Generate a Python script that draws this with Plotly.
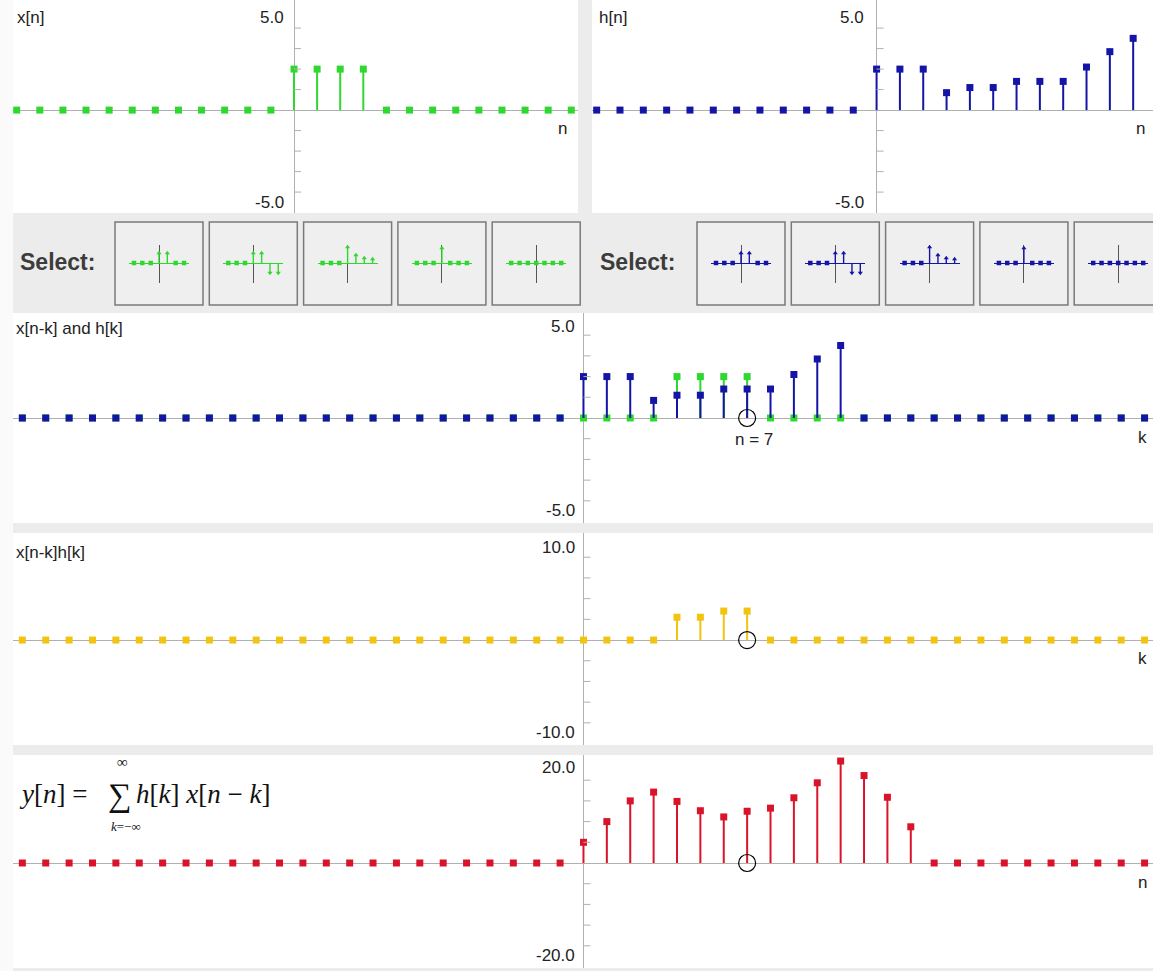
import numpy as np
import plotly.graph_objects as go

W, H = 1153, 971

# ---- signal data -------------------------------------------------------
x_idx = [0, 1, 2, 3]
x_val = [2.0, 2.0, 2.0, 2.0]

h_idx = list(range(12))
h_val = [2.0, 2.0, 2.0, 0.85, 1.1, 1.1, 1.4, 1.4, 1.4, 2.1, 2.85, 3.5]

n_sel = 7
prod_idx = [4, 5, 6, 7]
prod_val = [2.2, 2.2, 2.8, 2.8]

y_idx = list(range(15))
y_val = [4.0, 8.0, 12.0, 13.7, 11.9, 10.1, 8.9, 10.0, 10.6, 12.6, 15.5, 19.7, 16.9, 12.7, 7.0]

n_half = np.arange(-12, 13)
k_full = np.arange(-24, 25)

# preset selector thumbnails
icon_n = [-3, -2, -1, 0, 1, 2, 3]
icon_sets = [
    [0, 0, 0, 1.0, 1.0, 0, 0],
    [0, 0, 0, 1.0, 1.0, -1.0, -1.0],
    [0, 0, 0, 1.6, 0.8, 0.5, 0.4],
    [0, 0, 0, 1.5, 0, 0, 0],
    [0, 0, 0, 0, 0, 0, 0],
]

GREEN = "#2fd82f"
BLUE = "#1414a6"
YELLOW = "#f1c40f"
RED = "#d9142a"
AXIS = "#b0b0b0"
TXT = "#222222"
SANS = "Liberation Sans, Arial, sans-serif"
SERIF = "Liberation Serif, Times New Roman, serif"


def on_grid(grid, idx, val):
    d = dict(zip(idx, val))
    return [d.get(int(g), 0.0) for g in grid]


def px_x(p):
    return p / W


def px_y(q):
    return 1 - q / H


fig = go.Figure()
layout = {}
shapes = []
annots = []


def ax_name(i, kind):
    return kind if i == 1 else f"{kind}{i}"


def add_panel(i, px0, px1, py0, py1, xr, yr):
    layout[f"xaxis{i if i > 1 else ''}"] = dict(
        domain=[px_x(px0), px_x(px1)], range=xr, anchor=ax_name(i, "y"),
        showgrid=False, showticklabels=False, ticks="", showline=False,
        zeroline=True, zerolinecolor=AXIS, zerolinewidth=1, fixedrange=True)
    layout[f"yaxis{i if i > 1 else ''}"] = dict(
        domain=[px_y(py1), px_y(py0)], range=yr, anchor=ax_name(i, "x"),
        showgrid=False, showticklabels=False, ticks="", showline=False,
        zeroline=True, zerolinecolor=AXIS, zerolinewidth=1, fixedrange=True)
    shapes.append(dict(type="rect", xref="paper", yref="paper", layer="below",
                       x0=px_x(px0), x1=px_x(px1), y0=px_y(py1), y1=px_y(py0),
                       fillcolor="white", line=dict(width=0)))


def add_ticks(i, step):
    for j in range(-4, 5):
        if j == 0:
            continue
        shapes.append(dict(type="line", xref=ax_name(i, "x"), yref=ax_name(i, "y"),
                           xsizemode="pixel", xanchor=0, x0=0, x1=7,
                           y0=j * step, y1=j * step,
                           line=dict(color=AXIS, width=1)))


def add_stems(i, grid, vals, color, msize=7):
    sx, sy = [], []
    for g, v in zip(grid, vals):
        if v != 0:
            sx += [g, g, None]
            sy += [0, v, None]
    fig.add_trace(go.Scatter(x=sx, y=sy, mode="lines", xaxis=ax_name(i, "x"),
                             yaxis=ax_name(i, "y"), line=dict(color=color, width=2),
                             hoverinfo="skip", showlegend=False))
    fig.add_trace(go.Scatter(x=list(grid), y=vals, mode="markers", xaxis=ax_name(i, "x"),
                             yaxis=ax_name(i, "y"),
                             marker=dict(symbol="square", size=msize, color=color),
                             showlegend=False))


def add_circle(i):
    fig.add_trace(go.Scatter(x=[n_sel], y=[0], mode="markers", xaxis=ax_name(i, "x"),
                             yaxis=ax_name(i, "y"),
                             marker=dict(symbol="circle-open", size=17, color="black",
                                         line=dict(width=1.2, color="black")),
                             showlegend=False))


def label(text, x, y, xanchor="left", size=17, color=TXT, family=SANS):
    annots.append(dict(text=text, x=px_x(x), y=px_y(y), xref="paper", yref="paper",
                       xanchor=xanchor, yanchor="middle", showarrow=False,
                       font=dict(family=family, size=size, color=color)))


# ---- main panels -------------------------------------------------------
add_panel(1, 13, 578, 0, 213, [-12.16, 12.29], [-5.02, 5.37])
add_panel(2, 592, 1153, 0, 213, [-12.2, 11.85], [-5.02, 5.37])
add_panel(3, 13, 1153, 313, 523, [-24.4, 24.36], [-5.07, 5.07])
add_panel(4, 13, 1153, 533, 745, [-24.4, 24.36], [-10.14, 10.34])
add_panel(5, 13, 1153, 755, 968, [-24.4, 24.36], [-20.29, 20.87])

for i, st in zip(range(1, 6), [1, 1, 1, 2, 4]):
    add_ticks(i, st)

add_stems(1, n_half, on_grid(n_half, x_idx, x_val), GREEN)
add_stems(2, n_half, on_grid(n_half, h_idx, h_val), BLUE)

x_shift = [dict(zip(x_idx, x_val)).get(n_sel - int(k), 0.0) for k in k_full]
add_stems(3, k_full, x_shift, GREEN)
add_stems(3, k_full, on_grid(k_full, h_idx, h_val), BLUE)
add_circle(3)
annots.append(dict(text="n = 7", x=n_sel, y=0, xref="x3", yref="y3", xshift=7, yshift=-21,
                   showarrow=False, font=dict(family=SANS, size=17, color=TXT)))

add_stems(4, k_full, on_grid(k_full, prod_idx, prod_val), YELLOW)
add_circle(4)

add_stems(5, k_full, on_grid(k_full, y_idx, y_val), RED)
add_circle(5)

# titles and scale labels
label("x[n]", 15, 18)
label("h[n]", 597, 18)
label("x[n-k] and h[k]", 14, 329)
label("x[n-k]h[k]", 14, 552)

label("5.0", 286, 18, "right")
label("-5.0", 286, 202, "right")
label("5.0", 866, 18, "right")
label("-5.0", 866, 202, "right")
label("5.0", 577, 327, "right")
label("-5.0", 577, 510, "right")
label("10.0", 577, 547, "right")
label("-10.0", 577, 732, "right")
label("20.0", 577, 767, "right")
label("-20.0", 577, 955, "right")

label("n", 562, 129, "center")
label("n", 1140, 129, "center")
label("k", 1142, 437, "center")
label("k", 1142, 658, "center")
label("n", 1142, 882, "center")

# convolution sum formula
label("<i>y</i>[<i>n</i>] =", 17, 794, "left", 27, "#111", SERIF)
label("∑", 120, 795, "center", 33, "#111", SERIF)
label("∞", 122, 762, "center", 15, "#111", SERIF)
label("<i>k</i>=−∞", 126, 826, "center", 13, "#111", SERIF)
label("<i>h</i>[<i>k</i>] <i>x</i>[<i>n</i> − <i>k</i>]", 134, 794, "left", 27, "#111", SERIF)

# ---- selector row ------------------------------------------------------
shapes.append(dict(type="rect", xref="paper", yref="paper", layer="below",
                   x0=0, x1=px_x(13), y0=0, y1=1, fillcolor="#fafafa", line=dict(width=0)))

label("<b>Select:</b>", 18, 262, "left", 23, "#3c3c3c")
label("<b>Select:</b>", 598, 262, "left", 23, "#3c3c3c")

ax_i = 6
for start, color in [(115, GREEN), (697, BLUE)]:
    for b, vals in enumerate(icon_sets):
        bx0 = start + 94.3 * b
        bx1 = bx0 + 88
        shapes.append(dict(type="rect", xref="paper", yref="paper", layer="below",
                           x0=px_x(bx0), x1=px_x(min(bx1, W + 5)), y0=px_y(305), y1=px_y(222),
                           fillcolor="#efefef", line=dict(color="#7a7a7a", width=1.5)))
        cx = (bx0 + bx1) / 2
        layout[f"xaxis{ax_i}"] = dict(
            domain=[px_x(cx - 30), px_x(cx + 30)], range=[-3.6, 3.6], anchor=f"y{ax_i}",
            showgrid=False, showticklabels=False, zeroline=True, zerolinecolor="#555",
            zerolinewidth=1.2, fixedrange=True)
        layout[f"yaxis{ax_i}"] = dict(
            domain=[px_y(283), px_y(245)], range=[-2.0, 1.8], anchor=f"x{ax_i}",
            showgrid=False, showticklabels=False, zeroline=True, zerolinecolor=color,
            zerolinewidth=1, fixedrange=True)
        sx, sy, sym = [], [], []
        for n, v in zip(icon_n, vals):
            if v != 0:
                sx += [n, n, None]
                sy += [0, v, None]
                sym.append("triangle-up" if v > 0 else "triangle-down")
            else:
                sym.append("square")
        fig.add_trace(go.Scatter(x=sx, y=sy, mode="lines", xaxis=f"x{ax_i}", yaxis=f"y{ax_i}",
                                 line=dict(color=color, width=1.4), showlegend=False,
                                 hoverinfo="skip"))
        fig.add_trace(go.Scatter(x=icon_n, y=vals, mode="markers", xaxis=f"x{ax_i}",
                                 yaxis=f"y{ax_i}",
                                 marker=dict(symbol=sym, size=4.5, color=color),
                                 showlegend=False, hoverinfo="skip"))
        ax_i += 1

fig.update_layout(
    width=W, height=H, margin=dict(l=0, r=0, t=0, b=0),
    paper_bgcolor="#ececec", plot_bgcolor="rgba(0,0,0,0)",
    showlegend=False, shapes=shapes, annotations=annots, **layout)

fig.write_html("out.html", config={"displayModeBar": False})
